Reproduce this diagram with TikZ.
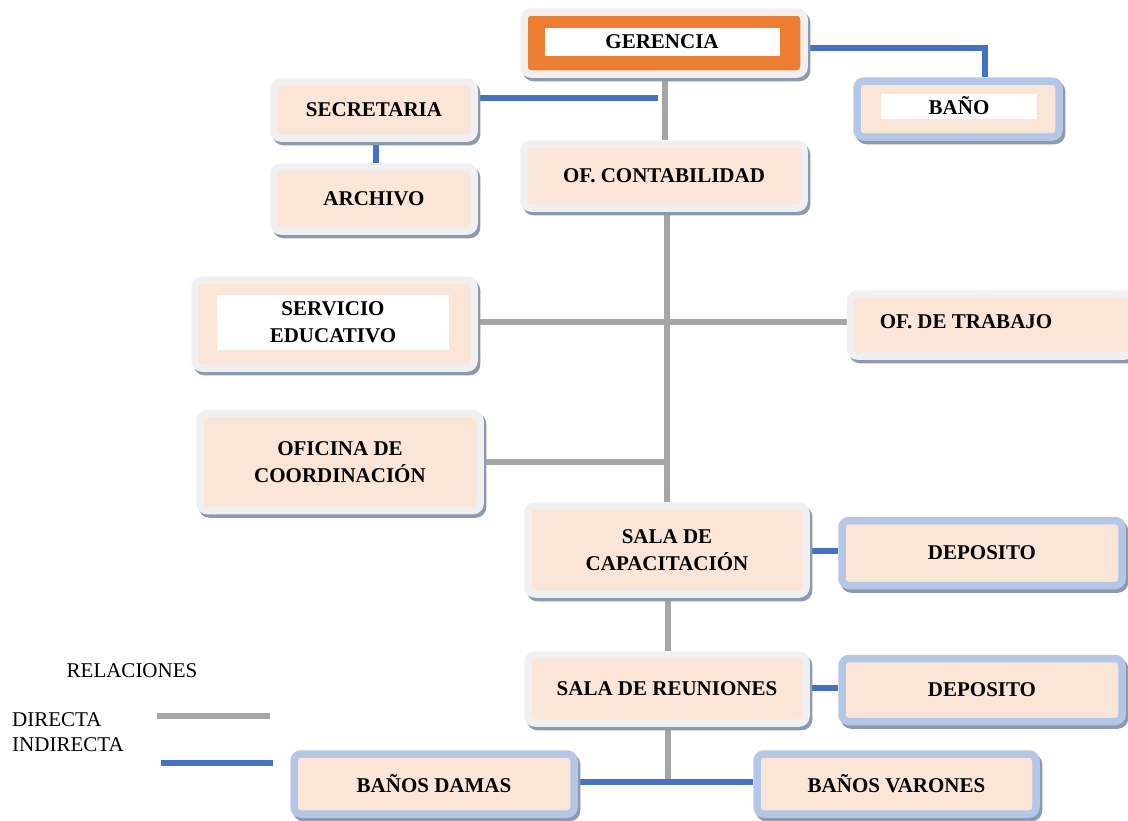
\documentclass[tikz,border=0pt]{standalone}
\usepackage{fontspec}
\setmainfont{Liberation Serif}
\usetikzlibrary{backgrounds}
\definecolor{ringgray}{HTML}{F0F0F0}
\definecolor{ringblue}{HTML}{B4C7E7}
\definecolor{peach}{HTML}{FBE5D6}
\definecolor{orangeg}{HTML}{ED7D31}
\definecolor{shadowc}{HTML}{8C9AB0}
\definecolor{dirc}{HTML}{A5A5A5}
\definecolor{indc}{HTML}{4472C4}
\tikzset{
  box/.style={rounded corners=7pt, line width=7.5pt, fill=peach, inner sep=0pt,
    font=\fontsize{21}{27}\selectfont\bfseries, align=center,
    preaction={draw=shadowc, line width=7.5pt, transform canvas={shift={(2.5pt,-3.5pt)}}}},
  graybox/.style={box, draw=ringgray},
  bluebox/.style={box, draw=ringblue},
  whitetxt/.style={fill=white, inner sep=0pt, font=\fontsize{21}{27}\selectfont\bfseries, align=center},
  dir/.style={draw=dirc, line width=6pt},
  ind/.style={draw=indc, line width=6pt},
  legend/.style={font=\fontsize{21}{25}\selectfont, inner sep=0pt, align=left}
}
\begin{document}
\begin{tikzpicture}[x=1pt,y=-1pt]
\useasboundingbox (0,0) rectangle (1128,820);
% boxes
\node[graybox, fill=orangeg, minimum width=280pt, minimum height=62pt] (ger) at (664,43) {};
\node[whitetxt, minimum width=235pt, minimum height=28pt] (gert) at (662,42) {GERENCIA};
\node[bluebox, minimum width=202pt, minimum height=56pt] (bano) at (958,109) {};
\node[whitetxt, minimum width=156pt, minimum height=25pt] (banot) at (959,106) {BAÑO};
\node[graybox, minimum width=200pt, minimum height=56pt] (sec) at (374,110) {SECRETARIA};
\node[graybox, minimum width=200pt, minimum height=64pt] (arch) at (374,199) {ARCHIVO};
\node[graybox, minimum width=280pt, minimum height=64pt] (cont) at (664,176) {OF. CONTABILIDAD};
\node[graybox, minimum width=279pt, minimum height=88pt] (serv) at (334.5,324) {};
\node[whitetxt, minimum width=232pt, minimum height=55pt] (servt) at (333,322) {SERVICIO\\EDUCATIVO};
\node[graybox, minimum width=281pt, minimum height=62pt] (trab) at (991,325) {};
\node[font=\fontsize{21}{27}\selectfont\bfseries, inner sep=0pt] (trabt) at (966,322) {OF. DE TRABAJO};
\node[graybox, minimum width=280pt, minimum height=97pt] (coord) at (340,462) {OFICINA DE\\COORDINACIÓN};
\node[graybox, minimum width=278pt, minimum height=88pt] (cap) at (667,550) {SALA DE\\CAPACITACIÓN};
\node[bluebox, minimum width=280pt, minimum height=65pt] (dep1) at (982,553) {DEPOSITO};
\node[graybox, minimum width=278pt, minimum height=68pt] (reu) at (667,689) {SALA DE REUNIONES};
\node[bluebox, minimum width=280pt, minimum height=63pt] (dep2) at (982,690) {DEPOSITO};
\node[bluebox, minimum width=280pt, minimum height=60pt] (damas) at (434,784) {BAÑOS DAMAS};
\node[bluebox, minimum width=279pt, minimum height=60pt] (var) at (896.5,784) {BAÑOS VARONES};
% legend
\node[legend] (rel) at (132,671) {RELACIONES};
\node[legend, anchor=west] (dirl) at (12,720) {DIRECTA};
\node[legend, anchor=west] (indl) at (12,745) {INDIRECTA};
\coordinate (dirA) at (157,716);
\coordinate (dirB) at (270,716);
\coordinate (indA) at (161,763);
\coordinate (indB) at (273,763);
\coordinate (secend) at (658,98);
\coordinate (bot) at (668,782);
\begin{pgfonlayer}{background}
\draw[dir] (ger.south -| 665,0) -- (cont.north -| 665,0);
\draw[dir] (cont.south -| 667,0) -- (cap.north -| 667,0);
\draw[dir] (cap.south -| 668,0) -- (reu.north -| 668,0);
\draw[dir] (reu.south -| 668,0) -- (bot);
\draw[dir] (serv.east |- 0,322) -- (trab.west |- 0,322);
\draw[dir] (coord.east) -- (coord.east -| cont.south);
\draw[ind] (ger.east |- 0,48) -| ([xshift=27pt]bano.north);
\draw[ind] (sec.east |- secend) -- (secend);
\draw[ind] (sec.south -| 376,0) -- (arch.north -| 376,0);
\draw[ind] (cap.east |- 0,551) -- (dep1.west |- 0,551);
\draw[ind] (reu.east |- 0,688) -- (dep2.west |- 0,688);
\draw[ind] (damas.east |- bot) -- (var.west |- bot);
\end{pgfonlayer}
\draw[dir] (dirA) -- (dirB);
\draw[ind] (indA) -- (indB);
\end{tikzpicture}
\end{document}
